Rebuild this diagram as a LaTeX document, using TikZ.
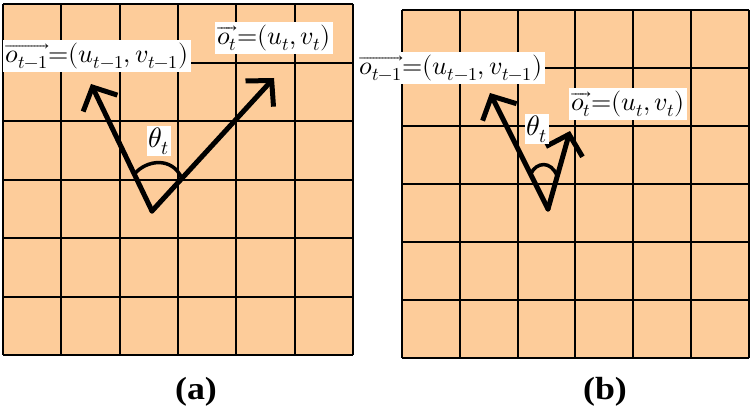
\documentclass[tikz,border=0pt]{standalone}
\usepackage{fontspec}
\usepackage{unicode-math}
\setmainfont{Liberation Serif}
\setmathfont{Latin Modern Math}
\usetikzlibrary{arrows.meta,calc}
\definecolor{peach}{RGB}{253,204,154}
\tikzset{
  gridline/.style={black, line width=2pt},
  vecarrow/.style={line width=5pt, -{Straight Barb[length=18pt,width=38pt,line width=5pt]}, line cap=round, line join=round},
  anglearc/.style={line width=3.5pt},
  vlabel/.style={fill=white, inner xsep=2pt, inner ysep=3pt, font=\fontsize{26}{28}\selectfont},
  thlabel/.style={fill=white, inner sep=2pt, font=\fontsize{28}{30}\selectfont},
  caption/.style={font=\fontsize{32}{34}\selectfont\bfseries, xscale=1.12}
}
\begin{document}
\begin{tikzpicture}[x=1pt,y=-1pt]
\useasboundingbox (0,0) rectangle (755,409);
% ---------- panel (a) grid ----------
\fill[peach] (3,4) rectangle (353,355);
\foreach \x in {3,61,120,178,236,295,353}
  \draw[gridline] (\x,4) -- (\x,355);
\foreach \y in {4,63,121,180,238,297,355}
  \draw[gridline] (3,\y) -- (353,\y);
% ---------- panel (b) grid ----------
\fill[peach] (402,10) rectangle (749,358);
\foreach \x in {402,460,518,575,633,691,749}
  \draw[gridline] (\x,10) -- (\x,358);
\foreach \y in {10,68,126,184,242,300,358}
  \draw[gridline] (402,\y) -- (749,\y);
% ---------- panel (a) vectors ----------
\coordinate (va) at (152,211);
\coordinate (ta1) at (91,84);
\coordinate (ta2) at (274,78);
\draw[vecarrow] (va) -- (ta1);
\draw[vecarrow] (va) -- (ta2);
\draw[anglearc] ($(va)!0.29!(ta1)$) .. controls (146,160) and (172,156) .. ($(va)!0.245!(ta2)$);
\node[vlabel] (la1) at (97,56) {$\overrightarrow{o_{t-1}}{=}(u_{t-1},v_{t-1})$};
\node[vlabel] (la2) at (274,38) {$\overrightarrow{o_{t}}{=}(u_{t},v_{t})$};
\node[thlabel] (tha) at (159,141) {$\theta_t$};
% ---------- panel (b) vectors ----------
\coordinate (vb) at (548,209);
\coordinate (tb1) at (490,93);
\coordinate (tb2) at (570,131);
\draw[vecarrow] (vb) -- (tb1);
\draw[vecarrow] (vb) -- (tb2);
\draw[anglearc] ($(vb)!0.3!(tb1)$) .. controls (536,162) and (551,160) .. ($(vb)!0.42!(tb2)$);
\node[vlabel] (lb1) at (451,68) {$\overrightarrow{o_{t-1}}{=}(u_{t-1},v_{t-1})$};
\node[vlabel] (lb2) at (628,104) {$\overrightarrow{o_{t}}{=}(u_{t},v_{t})$};
\node[thlabel] (thb) at (537,129) {$\theta_t$};
% ---------- captions ----------
\node[caption] (capa) at (196,392) {(a)};
\node[caption] (capb) at (605,392) {(b)};
\end{tikzpicture}
\end{document}
